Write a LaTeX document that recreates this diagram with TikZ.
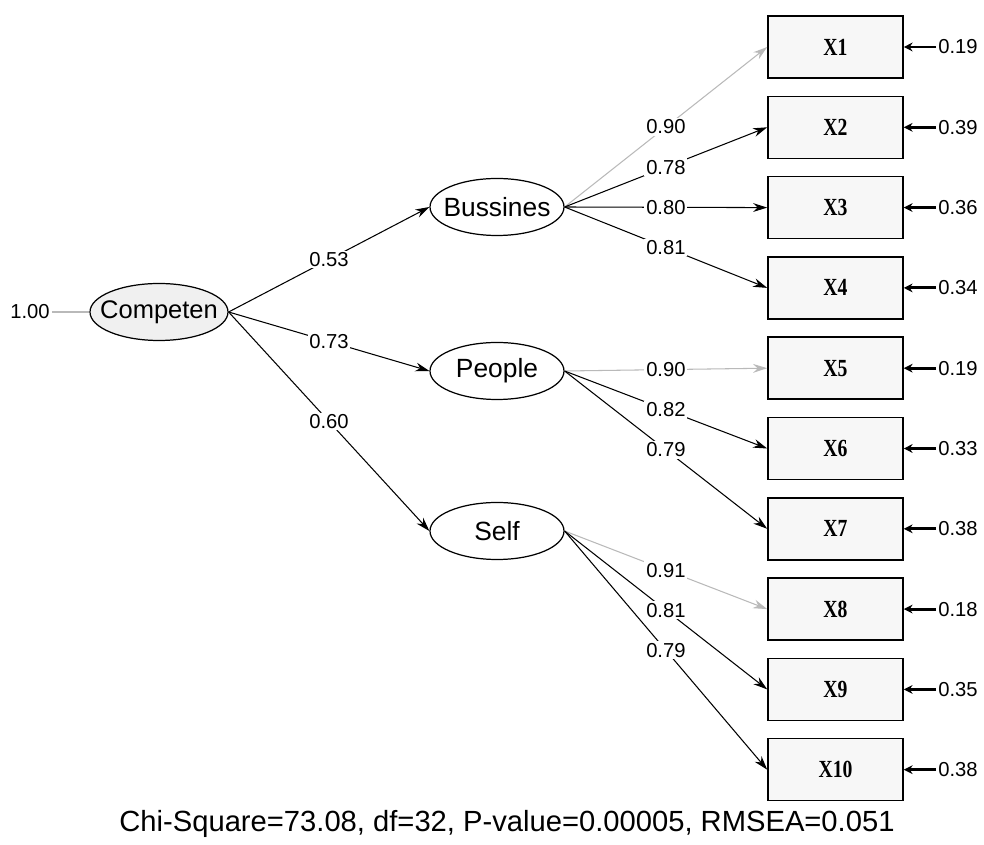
\documentclass[tikz,border=0pt]{standalone}
\usepackage{fontspec}
\setmainfont{Liberation Sans}
\newfontfamily\boxfont[FakeStretch=0.8]{Liberation Serif}
\usetikzlibrary{shapes.geometric, arrows, arrows.meta}
\tikzstyle{latent} = [ellipse, draw=black, line width=0.7pt, inner xsep=-5pt, inner ysep=0pt, minimum width=2.68cm, minimum height=1.14cm, font=\fontsize{15}{17}\selectfont]
\tikzstyle{observed} = [rectangle, draw=black, line width=0.9pt, fill=gray!6, minimum width=2.7cm, minimum height=1.24cm, font=\boxfont\bfseries\fontsize{14}{16}\selectfont]
\tikzstyle{coef} = [fill=white, inner sep=1pt, font=\fontsize{11.5}{13}\selectfont]
\tikzstyle{errlabel} = [inner sep=1pt, font=\fontsize{11.5}{13}\selectfont]
\tikzstyle{arrow} = [line width=0.6pt,->,>={Stealth[length=8pt,width=5pt]}]
\tikzstyle{fixedarrow} = [arrow, draw=gray!55]
\tikzstyle{errarrow} = [line width=1.6pt,->,>={Stealth[length=5pt,width=5pt]}]

\begin{document}
\begin{tikzpicture}[node distance=1.606cm]
		\useasboundingbox (0,0) rectangle (19.68,-16.9);
		% latent variables
		\node (comp) [latent, fill=gray!12, inner xsep=-8pt, minimum width=2.76cm, font=\fontsize{14.5}{17}\selectfont] at (3.18,-6.24) {Competen};
		\node (bus) [latent] at (9.94,-4.14) {Bussines};
		\node (peo) [latent] at (9.94,-7.42) {People};
		\node (self) [latent] at (9.94,-10.62) {Self};
		\node (var) [errlabel] at (0.6,-6.24) {1.00};
		
		% observed variables
		\node (x1) [observed] at (16.71,-0.94) {X1};
		\node (x2) [observed, below of=x1] {X2};
		\node (x3) [observed, below of=x2] {X3};
		\node (x4) [observed, below of=x3] {X4};
		\node (x5) [observed, below of=x4] {X5};
		\node (x6) [observed, below of=x5] {X6};
		\node (x7) [observed, below of=x6] {X7};
		\node (x8) [observed, below of=x7] {X8};
		\node (x9) [observed, below of=x8] {X9};
		\node (x10) [observed, below of=x9] {X10};
		
		% error variances
		\node (e1) [errlabel, right of=x1, node distance=2.45cm] {0.19};
		\node (e2) [errlabel, right of=x2, node distance=2.45cm] {0.39};
		\node (e3) [errlabel, right of=x3, node distance=2.45cm] {0.36};
		\node (e4) [errlabel, right of=x4, node distance=2.45cm] {0.34};
		\node (e5) [errlabel, right of=x5, node distance=2.45cm] {0.19};
		\node (e6) [errlabel, right of=x6, node distance=2.45cm] {0.33};
		\node (e7) [errlabel, right of=x7, node distance=2.45cm] {0.38};
		\node (e8) [errlabel, right of=x8, node distance=2.45cm] {0.18};
		\node (e9) [errlabel, right of=x9, node distance=2.45cm] {0.35};
		\node (e10) [errlabel, right of=x10, node distance=2.45cm] {0.38};
		
		\node (fit) [font=\fontsize{16.6}{19}\selectfont] at (10.14,-16.48) {Chi-Square=73.08, df=32, P-value=0.00005, RMSEA=0.051};
		
		\draw [line width=0.6pt, draw=gray!55] (var) -- (comp);
		\draw [arrow] (comp.east) -- node[coef] {0.53} (bus.west);
		\draw [arrow] (comp.east) -- node[coef] {0.73} (peo.west);
		\draw [arrow] (comp.east) -- node[coef] {0.60} (self.west);
		
		\draw [fixedarrow] (bus.east) -- node[coef] {0.90} (x1.west);
		\draw [arrow] (bus.east) -- node[coef] {0.78} (x2.west);
		\draw [arrow] (bus.east) -- node[coef] {0.80} (x3.west);
		\draw [arrow] (bus.east) -- node[coef] {0.81} (x4.west);
		\draw [fixedarrow] (peo.east) -- node[coef] {0.90} (x5.west);
		\draw [arrow] (peo.east) -- node[coef] {0.82} (x6.west);
		\draw [arrow] (peo.east) -- node[coef] {0.79} (x7.west);
		\draw [fixedarrow] (self.east) -- node[coef] {0.91} (x8.west);
		\draw [arrow] (self.east) -- node[coef] {0.81} (x9.west);
		\draw [arrow] (self.east) -- node[coef] {0.79} (x10.west);
		
		\draw [errarrow] (e1) -- (x1);
		\draw [errarrow] (e2) -- (x2);
		\draw [errarrow] (e3) -- (x3);
		\draw [errarrow] (e4) -- (x4);
		\draw [errarrow] (e5) -- (x5);
		\draw [errarrow] (e6) -- (x6);
		\draw [errarrow] (e7) -- (x7);
		\draw [errarrow] (e8) -- (x8);
		\draw [errarrow] (e9) -- (x9);
		\draw [errarrow] (e10) -- (x10);
		\end{tikzpicture}
\end{document}
